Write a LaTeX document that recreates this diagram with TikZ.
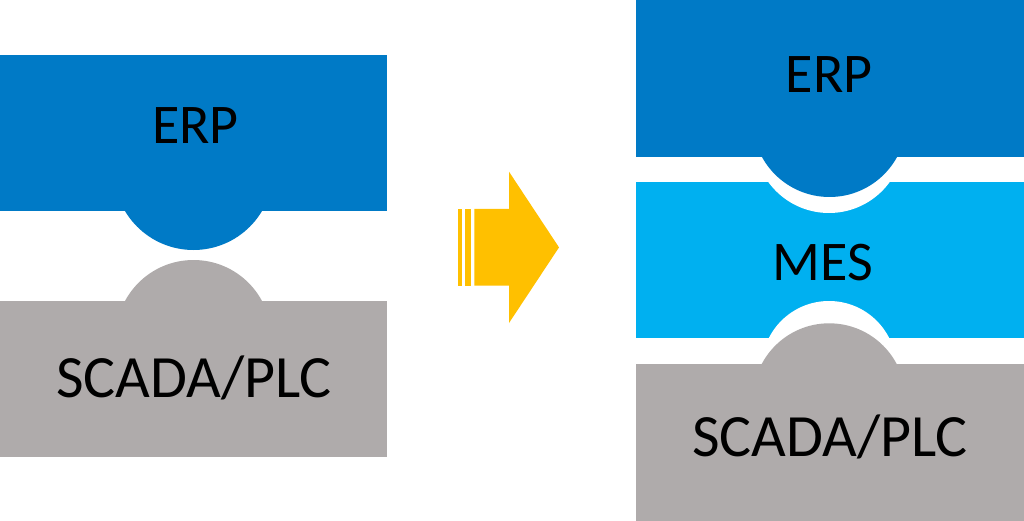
\documentclass[tikz,border=0pt]{standalone}
\usepackage{fontspec}
\setmainfont{Carlito}
\definecolor{erpblue}{RGB}{0,122,198}
\definecolor{mesblue}{RGB}{0,176,240}
\definecolor{plcgray}{RGB}{175,171,171}
\definecolor{arrowyellow}{RGB}{255,192,0}
\tikzset{
  lbl/.style={anchor=base, inner sep=0pt, text=black},
  big/.style={lbl, font=\fontsize{56}{60}\selectfont},
  bigger/.style={lbl, font=\fontsize{60}{64}\selectfont},
}
\begin{document}
\begin{tikzpicture}[x=1pt, y=-1pt]
\useasboundingbox (0,0) rectangle (1024,521);
\fill[white] (0,0) rectangle (1024,521);
% ---- left stack ----
\fill[erpblue] (0,55) rectangle (387,211);
\fill[erpblue] (193.5,170.3) circle (79.7);
\fill[plcgray] (193.5,337.7) circle (77.7);
\fill[plcgray] (0,301) rectangle (387,457);
\node[big] (erpL) at (195.5,144) {ERP};
\node[bigger] (plcL) at (194,397) {SCADA/PLC};
% ---- arrow ----
\fill[arrowyellow] (458.3,209) rectangle (461.7,285.7);
\fill[arrowyellow] (465,209) rectangle (471,285.7);
\fill[arrowyellow] (474.3,209) -- (509,209) -- (509,171.7) -- (559,247.4)
  -- (509,323) -- (509,285.7) -- (474.3,285.7) -- cycle;
% ---- right stack ----
\fill[mesblue] (636,181.7) rectangle (1024,337.7);
\fill[white] (829,138) circle (75);
\fill[white] (829,368.4) circle (67.4);
\fill[erpblue] (636,0) rectangle (1024,157);
\fill[erpblue] (829.5,120) circle (77);
\fill[plcgray] (636,364) rectangle (1024,521);
\fill[plcgray] (829.2,399.6) circle (76.3);
\node[big] (erpR) at (829,93) {ERP};
\node[big] (mes) at (823,280) {MES};
\node[bigger] (plcR) at (830,456) {SCADA/PLC};
\end{tikzpicture}
\end{document}
